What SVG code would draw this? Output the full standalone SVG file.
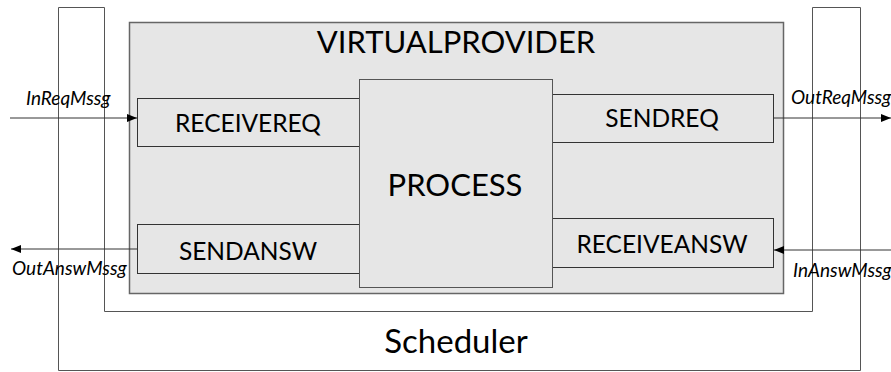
<svg xmlns="http://www.w3.org/2000/svg" width="891" height="372" viewBox="0 0 891 372">
<defs>
<marker id="ah" markerWidth="10" markerHeight="8" refX="10" refY="4" orient="auto" markerUnits="userSpaceOnUse">
<path d="M0,0 L10,4 L0,8 Z" fill="#000"/>
</marker>
<style>
.box{fill:#e6e6e6;stroke:#333;stroke-width:1}
.big{font-family:Lato,"Open Sans",sans-serif;font-size:31px;fill:#000;text-anchor:middle}
.mid{font-family:Lato,"Open Sans",sans-serif;font-size:24.5px;fill:#000;text-anchor:middle}
.lab{font-family:Lato,"Open Sans",sans-serif;font-size:19px;font-style:italic;fill:#000}
.con{stroke:#333;stroke-width:1;fill:none}
</style>
</defs>
<rect width="891" height="372" fill="#fff"/>
<g id="scheduler">
<path d="M58.5,7.5 H104.5 V311.5 H812.5 V7.5 H860.5 V370.5 H58.5 Z" fill="#fff" stroke="#555" stroke-width="1"/>
<text class="big" x="456" y="353" style="font-size:33px">Scheduler</text>
</g>
<g id="virtualprovider">
<rect x="129.5" y="22.5" width="654" height="271" fill="#e6e6e6" stroke="#666" stroke-width="1.5"/>
<text class="big" x="456" y="53">VIRTUALPROVIDER</text>
</g>
<g id="receivereq">
<rect class="box" x="137.5" y="98.5" width="222" height="48"/>
<text class="mid" x="248" y="132">RECEIVEREQ</text>
</g>
<g id="sendansw">
<rect class="box" x="137.5" y="224.5" width="222" height="49"/>
<text class="mid" x="248" y="260">SENDANSW</text>
</g>
<g id="sendreq">
<rect class="box" x="552.5" y="94.5" width="221" height="48"/>
<text class="mid" x="662" y="127">SENDREQ</text>
</g>
<g id="receiveansw">
<rect class="box" x="552.5" y="218.5" width="221" height="49"/>
<text class="mid" x="662" y="253">RECEIVEANSW</text>
</g>
<g id="process">
<rect x="359.5" y="79.5" width="193" height="208" fill="#e6e6e6" stroke="#555" stroke-width="1"/>
<text class="big" x="455" y="196">PROCESS</text>
</g>
<g id="connectors">
<line class="con" x1="10" y1="118" x2="137" y2="118" marker-end="url(#ah)"/>
<line class="con" x1="774" y1="118" x2="891" y2="118" marker-end="url(#ah)"/>
<line class="con" x1="137" y1="249" x2="11" y2="249" marker-end="url(#ah)"/>
<line class="con" x1="891" y1="250" x2="774" y2="250" marker-end="url(#ah)"/>
<text class="lab" x="26" y="105">InReqMssg</text>
<text class="lab" x="791" y="104">OutReqMssg</text>
<text class="lab" x="12" y="275">OutAnswMssg</text>
<text class="lab" x="793" y="277">InAnswMssg</text>
</g>
</svg>
